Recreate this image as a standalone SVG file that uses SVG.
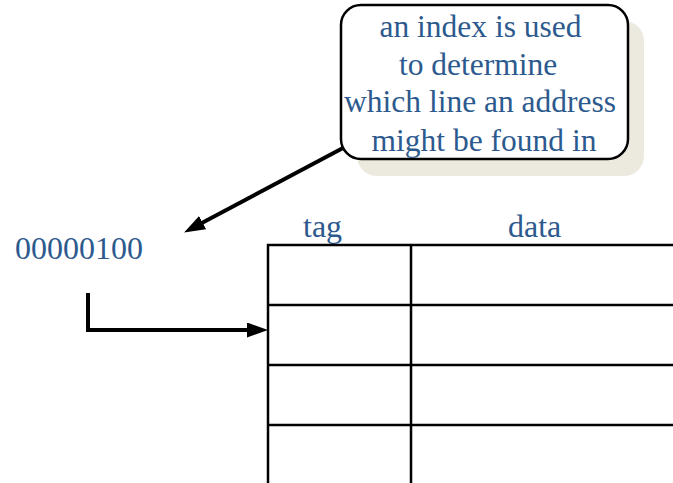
<svg xmlns="http://www.w3.org/2000/svg" width="673" height="483" viewBox="0 0 673 483">
<style>
.t{font-family:"Liberation Serif","Times New Roman",serif;fill:#2d5a8e;}
.grid{stroke:#000;stroke-width:2.5;fill:none;}
.conn{stroke:#000;stroke-width:4;fill:none;}
</style>
<defs>
<marker id="ah" markerUnits="userSpaceOnUse" markerWidth="24" markerHeight="16" refX="10" refY="7.5" orient="auto">
<path d="M0,0 L21,7.5 L0,15 z" fill="#000"/>
</marker>
</defs>
<rect width="673" height="483" fill="#fff"/>
<g id="callout">
<rect x="357" y="21" width="287" height="155" rx="20" fill="#ece9df"/>
<rect x="341" y="5" width="287" height="154" rx="20" fill="#fff" stroke="#000" stroke-width="2.5"/>
<text class="t" font-size="31.5" text-anchor="middle">
<tspan x="484.5" y="37">an index is used</tspan>
<tspan x="482" y="75">to determine</tspan>
<tspan x="484" y="112">which line an address</tspan>
<tspan x="484" y="151">might be found in</tspan>
</text>
</g>
<g id="address">
<text class="t" x="15" y="259" font-size="32">00000100</text>
</g>
<g id="cache">
<text class="t" x="303" y="237" font-size="32">tag</text>
<text class="t" x="508" y="237" font-size="32">data</text>
<path class="grid" d="M268,483 V245 H673 M411,245 V483 M268,305 H673 M268,365 H673 M268,425 H673"/>
</g>
<g id="connectors">
<line class="conn" x1="343" y1="148" x2="193.8" y2="227.3" marker-end="url(#ah)"/>
<path class="conn" d="M88,293 V330 H257" stroke-width="3.5" marker-end="url(#ah)"/>
</g>
</svg>
